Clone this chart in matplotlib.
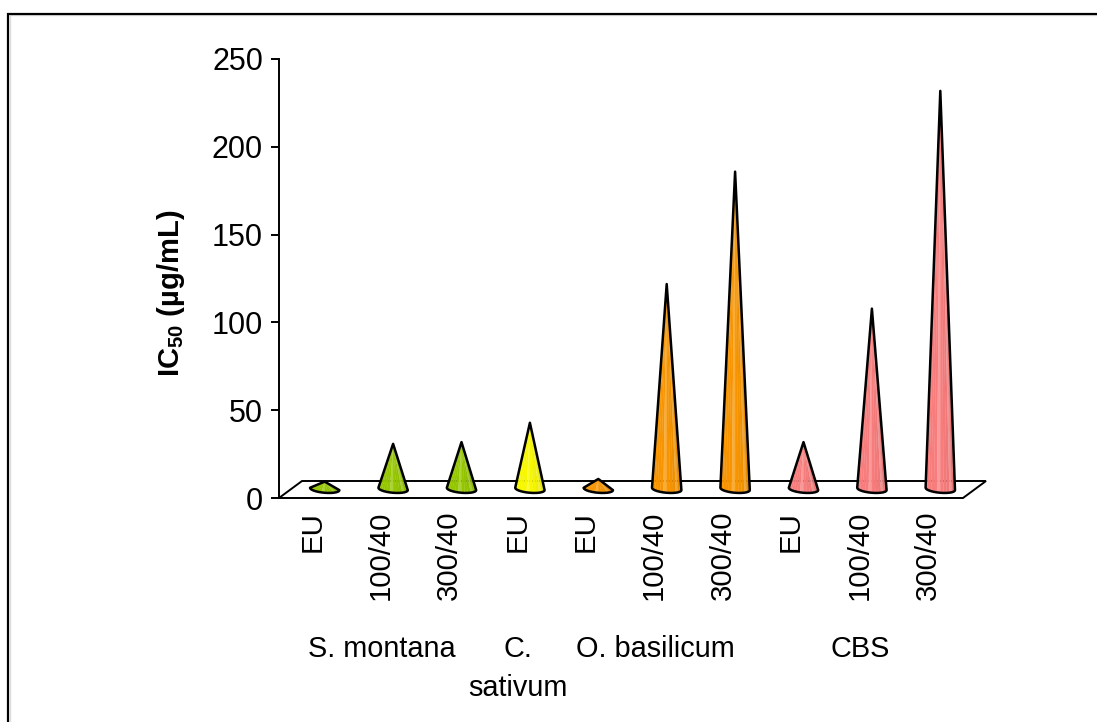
import matplotlib
matplotlib.use('Agg')
import matplotlib.pyplot as plt
from matplotlib.lines import Line2D
from matplotlib.patches import Polygon
import numpy as np

plt.rcParams['font.family'] = ['Liberation Sans', 'DejaVu Sans']
plt.rcParams['mathtext.fontset'] = 'custom'
plt.rcParams['mathtext.bf'] = 'Liberation Sans:bold'
plt.rcParams['mathtext.rm'] = 'Liberation Sans'

bar_labels = ['EU', '100/40', '300/40', 'EU', 'EU', '100/40', '300/40', 'EU', '100/40', '300/40']
group_labels = ['S. montana', 'C.\nsativum', 'O. basilicum', 'CBS']
group_spans = [(0, 3), (3, 4), (4, 7), (7, 10)]
values = [4.5, 26, 27, 38, 6, 117, 181, 27, 103, 227]
colors = ['#99cc00', '#99cc00', '#99cc00', '#ffff00', '#ff9900', '#ff9900', '#ff9900',
          '#ff8080', '#ff8080', '#ff8080']
yticks = [0, 50, 100, 150, 200, 250]

W, H = 1097, 722
fig = plt.figure(figsize=(W / 100, H / 100), dpi=100)
ax = fig.add_axes([279 / W, 1 - 498 / H, 684 / W, 439 / H])
ax.set_xlim(0, 10)
ax.set_ylim(0, 250)
ax.patch.set_visible(False)

# only the top and left of the chart border show in the picture
fig.add_artist(Line2D([9.5 / W, 9.5 / W, 1], [0, 1 - 15 / H, 1 - 15 / H], transform=fig.transFigure,
                      color='#dddddd', lw=1))
fig.add_artist(Line2D([8 / W, 8 / W, 1], [0, 1 - 13.5 / H, 1 - 13.5 / H], transform=fig.transFigure,
                      color='black', lw=1.6, solid_joinstyle='miter'))

# floor of the 3D box
dx = 23 / 68.4
dy = 17 / 1.756
ax.add_patch(Polygon([(0, 0), (10, 0), (10 + dx, dy), (dx, dy)], closed=True, fill=False,
                     ec='black', lw=1.4, clip_on=False, zorder=1))


def shade(color, k, n):
    c = np.array(matplotlib.colors.to_rgb(color))
    t = k / (n - 1)
    # flat colour, darker on the right side, a few pale stripes
    f = 0.97 - 0.1 * max(0, t - 0.55) / 0.45
    c = c * f
    if k in (6, 10):
        c = c + (1 - c) * 0.22
    return c


# cones, built as thin facets
rx = 0.215
ry = 3.8 / 1.756
tilt = 1.2 / 1.756
n = 14
for i, v in enumerate(values):
    cx = i + 0.5 + dx / 2
    cy = dy / 2 + 0.3
    th = np.linspace(np.pi, 2 * np.pi, n + 1)
    ex = cx + rx * np.cos(th)
    ey = cy + ry * np.sin(th) - tilt * np.cos(th)
    tip = (cx, dy / 2 + v)
    for k in range(n):
        c = shade(colors[i], k, n)
        ax.add_patch(Polygon([(ex[k], ey[k]), (ex[k + 1], ey[k + 1]), tip], closed=True,
                             fc=c, ec=c, lw=0.2, clip_on=False, zorder=3))
    outline = list(zip(ex, ey)) + [tip]
    ax.add_patch(Polygon(outline, closed=True, fill=False, ec='black', lw=1.8,
                         joinstyle='round', clip_on=False, zorder=4))

for s in ['top', 'right', 'bottom']:
    ax.spines[s].set_visible(False)
ax.spines['left'].set_linewidth(1.4)
ax.set_yticks(yticks)
ax.tick_params(axis='y', length=6, width=1.4, labelsize=22, pad=5.5)
ax.set_xticks([])
ax.set_ylabel('IC$_{\\mathbf{50}}$ (µg/mL)', fontsize=21, fontweight='bold')
ax.yaxis.set_label_coords((187 - 279) / 684, (498 - 293) / 439)

# bar labels under the floor
for i, lab in enumerate(bar_labels):
    ax.annotate(lab, xy=(i + 0.5, 0), xytext=(-1, -13), textcoords='offset pixels', rotation=90,
                ha='center', va='top', fontsize=21.2)

# group labels
for lab, (a, b) in zip(group_labels, group_spans):
    ax.annotate(lab, xy=((a + b) / 2, 0), xytext=(0, -137), textcoords='offset pixels',
                ha='center', va='top', fontsize=20.8, linespacing=1.5)

fig.savefig('out.png', dpi=100)
